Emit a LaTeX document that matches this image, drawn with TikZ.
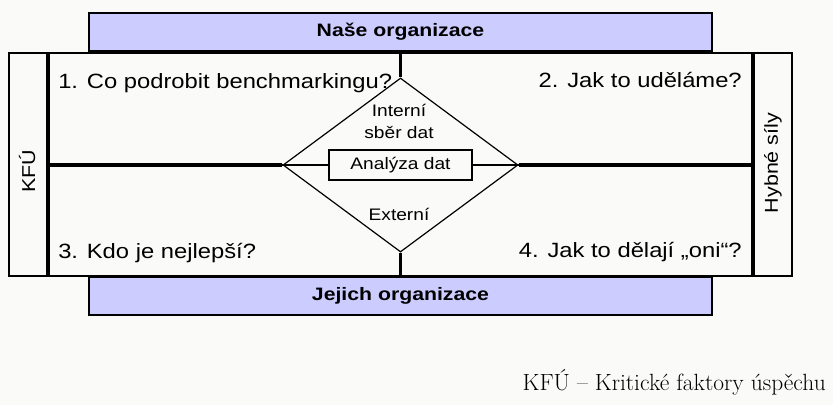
\documentclass[tikz,border=0pt]{standalone}
\usepackage{fontspec}
\usetikzlibrary{shapes.geometric}
\newfontfamily\qfont[FakeStretch=1.15]{Liberation Sans}
\newfontfamily\bfont[FakeStretch=1.18]{Liberation Sans}
\definecolor{bg}{HTML}{FAFBF8}
\definecolor{lav}{HTML}{CCCCFF}
\begin{document}
\begin{tikzpicture}[x=0.75pt,y=-0.75pt,
 bar/.style={draw, line width=1.5pt, fill=lav, minimum width=467.25pt, minimum height=28.5pt, inner sep=0, font=\bfont\bfseries\fontsize{13.5}{16}\selectfont},
 sidebox/.style={draw, line width=1.2pt, fill=bg, minimum width=30pt, minimum height=167.25pt, inner sep=0},
 sidelabel/.style={rotate=90, inner sep=0, font=\qfont\fontsize{14}{16}\selectfont},
 mainbox/.style={draw, line width=1.2pt, fill=bg, minimum width=527.25pt, minimum height=167.25pt, inner sep=0},
 thickline/.style={line width=2.6pt},
 thinline/.style={line width=0.9pt},
 quad/.style={font=\qfont\fontsize{15.5}{18}\selectfont, inner sep=0},
 dtext/.style={font=\qfont\fontsize{12.5}{15}\selectfont, inner sep=0},
]
\fill[bg] (0,0) rectangle (833,405);
\useasboundingbox (0,0) rectangle (833,405);
\node[bar] (top) at (400.5,32) {Naše organizace};
\node[bar] (bot) at (400.5,296) {Jejich organizace};
\node[sidebox] (kfu) at (29,164.5) {};
\node[sidebox] (hyb) at (772,164.5) {};
\node[mainbox] (main) at (400.5,164.5) {};
\node[sidelabel] (kfut) at (27,171) {KFÚ};
\node[sidelabel] (hybt) at (773,163) {Hybné síly};
\draw[thickline] (main.north west) -- (main.south west);
\draw[thickline] (main.north east) -- (main.south east);
\node[diamond, draw, thinline, minimum width=176.25pt, minimum height=130.5pt, inner sep=0] (dia) at (400.5,165) {};
\node[draw, line width=1pt, fill=bg, minimum width=107.25pt, minimum height=22.5pt, dtext] (ana) at (400.5,165) {Analýza dat};
\draw[thickline] (main.west |- dia.west) -- (dia.west);
\draw[thickline] (dia.east) -- (dia.east -| main.east);
\draw[thickline] (dia.north |- main.north) -- (dia.north);
\draw[thickline] (dia.south) -- (dia.south |- main.south);
\draw[thinline] (dia.west) -- (ana.west);
\draw[thinline] (ana.east) -- (dia.east);
\node[quad, anchor=base west] (q1) at (58,88) {1. Co podrobit benchmarkingu?};
\node[quad, anchor=base east] (q2) at (742,87) {2. Jak to uděláme?};
\node[quad, anchor=base west] (q3) at (58,258) {3. Kdo je nejlepší?};
\node[quad, anchor=base east] (q4) at (742,257) {4. Jak to dělají „oni“?};
\node[dtext] (int1) at (399,110) {Interní};
\node[dtext] (int2) at (399,133) {sběr dat};
\node[dtext] (ext) at (399,214) {Externí};
\node[anchor=base east, inner sep=0, font=\fontsize{17.6}{21}\selectfont] (cap) at (826,390) {KFÚ – Kritické faktory úspěchu};
\end{tikzpicture}
\end{document}
